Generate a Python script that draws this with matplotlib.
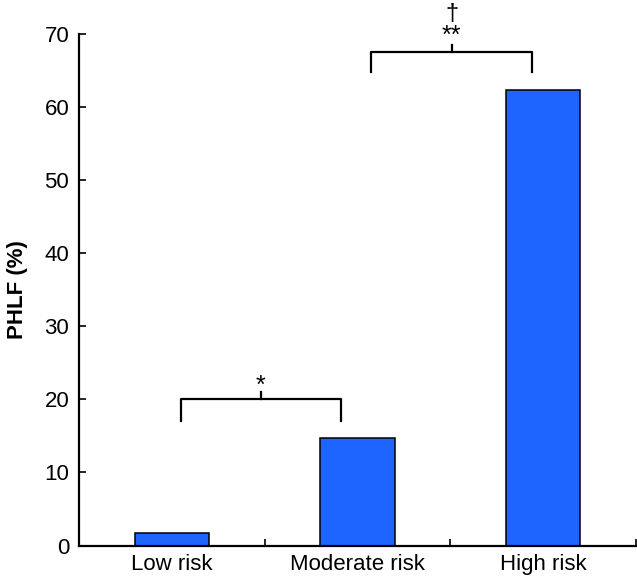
import numpy as np
import matplotlib
matplotlib.use("Agg")
import matplotlib.pyplot as plt

plt.rcParams['font.family'] = ['Liberation Sans', 'DejaVu Sans']

groups = ['Low risk', 'Moderate risk', 'High risk']
phlf = [1.7, 14.7, 62.4]

# significance brackets: (x start, x end, bar height, leg bottom, label, label y)
brackets = [
    (0.05, 0.91, 20.0, 17.1, '*', 20.2),
    (1.075, 1.94, 67.5, 64.8, '**', 68.1),
]

fig = plt.figure(figsize=(6.37, 5.81), dpi=100)
ax = fig.add_axes([0.124, 0.061, 0.8745, 0.8805])

x = np.arange(len(groups))
ax.bar(x, phlf, width=0.4, color='#1E64FF', edgecolor='black', linewidth=1.1)

ax.set_xlim(-0.5, 2.5)
ax.set_ylim(0, 70)
ax.set_yticks(np.arange(0, 71, 10))
ax.set_xticks(x)
ax.set_xticklabels(groups)
ax.set_xticks(np.arange(0.5, 3, 1), minor=True)

for s in ['top', 'right']:
    ax.spines[s].set_visible(False)
for s in ['left', 'bottom']:
    ax.spines[s].set_linewidth(1.6)

ax.tick_params(axis='y', direction='in', length=5, width=1.2, labelsize=16, pad=7)
ax.tick_params(axis='x', which='major', length=0, labelsize=16, pad=6)
ax.tick_params(axis='x', which='minor', direction='in', length=5, width=1.2)

ax.set_ylabel('PHLF (%)', fontsize=16, fontweight='bold', labelpad=12)

for x0, x1, yh, yl, lab, ly in brackets:
    xm = (x0 + x1) / 2
    ax.plot([x0, x0, x1, x1], [yl, yh, yh, yl], color='black', lw=1.6, clip_on=False)
    ax.plot([xm, xm], [yh, yh + 1.0], color='black', lw=1.6, clip_on=False)
    ax.text(xm, ly, lab, ha='center', va='bottom', fontsize=18, clip_on=False)

ax.text((1.075 + 1.94) / 2, 72.7, '†', ha='center', va='center', fontsize=17, clip_on=False)

fig.savefig('out.png', dpi=100)
